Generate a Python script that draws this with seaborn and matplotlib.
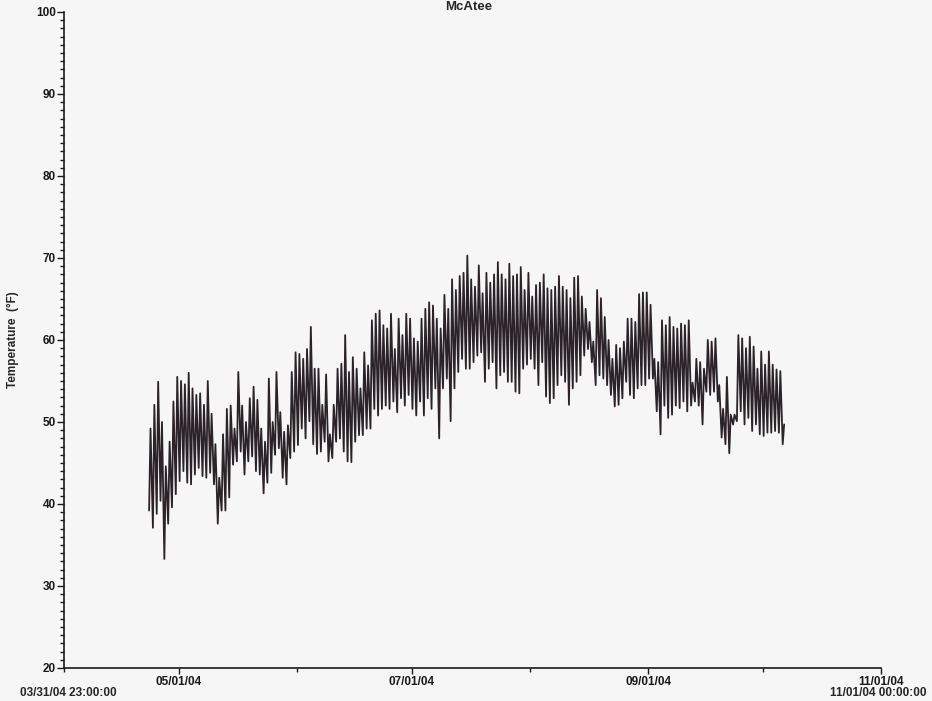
import pandas as pd
import numpy as np
import seaborn as sns
import matplotlib.pyplot as plt
import matplotlib.dates as mdates
from matplotlib.ticker import MultipleLocator

# daily highs / lows (deg F), one pair per day from 04/23/04
highs = [49.2, 52.1, 54.9, 50.0, 44.6, 47.6, 52.5, 55.5, 55.0, 54.6,
         56.0, 54.1, 53.3, 53.5, 52.1, 55.0, 51.0, 47.3, 43.2, 48.5,
         51.6, 52.0, 49.2, 56.1, 52.0, 50.0, 52.9, 54.3, 52.7, 49.2,
         47.6, 55.3, 50.0, 56.1, 51.2, 48.8, 49.6, 56.1, 58.5, 58.3,
         57.7, 58.9,
         61.6, 56.5, 56.5, 52.1, 55.8, 48.5, 52.1, 56.5, 57.1, 60.6,
         56.1, 57.9, 56.5, 54.1, 58.5, 56.9, 62.4, 63.2, 63.6, 61.8,
         61.4, 63.2, 58.9, 62.6, 60.6, 63.2, 62.6, 60.2, 59.8, 62.6,
         63.8, 64.6, 64.2, 62.6, 61.4, 65.5, 63.8, 67.4, 66.1, 67.8,
         68.2, 70.3,
         67.4, 66.5, 69.1, 65.7, 68.2, 67.0, 68.0, 69.5, 68.0, 67.4,
         69.3, 67.8, 68.0, 68.9, 66.1, 68.2, 65.3, 66.7, 67.0, 68.0,
         66.3, 66.1, 66.5, 67.8, 66.5, 66.1, 65.1, 67.6, 67.8, 65.3,
         63.8, 62.2, 59.8, 66.1, 65.1, 62.8, 60.0, 57.7, 59.4, 59.0,
         59.8, 62.6,
         62.6, 62.2, 65.6, 65.8, 65.8, 64.3, 57.7, 57.3, 62.4, 61.8,
         62.8, 61.6, 61.4, 62.0, 61.8, 62.4, 54.8, 57.7, 57.3, 56.5,
         60.0, 59.8, 60.2, 54.5, 51.6, 55.5, 50.9, 50.9, 60.6, 60.2,
         59.0, 60.4, 59.2, 56.5, 58.6, 57.0, 58.6, 57.0, 56.4, 56.2,
         49.7]
lows = [39.2, 37.1, 38.8, 40.4, 33.3, 37.6, 39.6, 41.2, 42.8, 44.0,
        42.6, 42.4, 43.6, 44.4, 43.4, 43.2, 43.8, 42.4, 37.6, 39.2,
        39.2, 40.8, 44.8, 45.2, 46.4, 43.6, 45.2, 45.8, 44.0, 43.6,
        41.3, 42.6, 43.8, 46.0, 46.8, 43.2, 42.4, 45.6, 46.4, 47.2,
        49.2, 48.0,
        50.1, 47.3, 46.1, 46.4, 47.6, 45.2, 45.6, 47.6, 48.0, 46.4,
        45.2, 45.1, 47.6, 48.4, 48.4, 49.2, 49.2, 51.6, 50.8, 51.6,
        52.0, 51.6, 52.5, 51.2, 52.9, 52.0, 53.3, 51.6, 50.8, 52.5,
        50.8, 52.9, 51.6, 54.1, 48.0, 54.1, 55.3, 50.1, 54.1, 56.1,
        57.7, 56.5,
        56.5, 57.3, 58.1, 58.5, 54.9, 56.5, 57.3, 54.1, 55.7, 56.1,
        54.9, 54.9, 53.7, 53.5, 56.5, 57.0, 57.7, 56.5, 54.5, 57.3,
        53.1, 52.3, 52.9, 54.5, 55.7, 54.9, 52.1, 54.1, 54.9, 55.7,
        58.1, 58.9, 57.3, 54.5, 55.7, 55.3, 54.5, 53.3, 51.9, 52.1,
        52.9, 54.9,
        53.3, 52.9, 54.1, 54.5, 54.5, 55.3, 55.3, 51.3, 48.5, 52.0,
        50.5, 50.9, 52.0, 51.7, 52.5, 51.3, 52.0, 52.5, 52.0, 49.7,
        53.7, 53.3, 53.7, 52.5, 48.1, 47.3, 46.2, 49.7, 50.1, 51.3,
        49.7, 50.5, 48.9, 49.7, 48.5, 48.3, 48.7, 48.7, 48.9, 48.7,
        47.3]

first_day = "2004-04-23"
x_start = pd.Timestamp("2004-03-31 23:00:00")
x_end = pd.Timestamp("2004-11-01 00:00:00")

days = pd.date_range(first_day, periods=len(highs), freq="D")
times, temps = [], []
for d, lo, hi in zip(days, lows, highs):
    times += [d + pd.Timedelta(hours=6), d + pd.Timedelta(hours=15)]
    temps += [lo, hi]
df = pd.DataFrame({"time": times, "temp": temps})

sns.set_style("white")
plt.rcParams["font.family"] = ["Liberation Sans", "DejaVu Sans"]
plt.rcParams["font.weight"] = "bold"

bg = "#f6f6f6"
fig = plt.figure(figsize=(9.32, 7.01), dpi=100, facecolor=bg)
ax = fig.add_axes([64 / 932, 33 / 701, 817 / 932, 656 / 701], facecolor=bg)

sns.lineplot(data=df, x="time", y="temp", ax=ax, color="#2b2327",
             linewidth=1.3, estimator=None)

ax.set_xlim(x_start, x_end)
ax.set_ylim(20, 100)
ax.yaxis.set_major_locator(MultipleLocator(10))
ax.yaxis.set_minor_locator(MultipleLocator(1))
ax.xaxis.set_major_locator(mdates.MonthLocator(bymonth=[5, 7, 9, 11]))
ax.xaxis.set_minor_locator(mdates.MonthLocator())
ax.xaxis.set_major_formatter(mdates.DateFormatter("%m/%d/%y"))

ax.tick_params(axis="y", which="major", direction="out", length=5, width=1,
               labelsize=8.5, pad=1, left=True, colors="#1a1a1a")
ax.tick_params(axis="y", which="minor", direction="out", length=3, width=1,
               left=True, colors="#1a1a1a")
ax.tick_params(axis="x", which="major", direction="out", length=4, width=1,
               labelsize=8.5, pad=2, bottom=True, colors="#1a1a1a")
ax.tick_params(axis="x", which="minor", direction="out", length=3, width=1,
               bottom=True, colors="#1a1a1a")
for lab in ax.get_xticklabels() + ax.get_yticklabels():
    lab.set_fontweight("bold")

sns.despine(ax=ax)
for s in ["left", "bottom"]:
    ax.spines[s].set_color("#1a1a1a")
    ax.spines[s].set_linewidth(1.2)

ax.set_xlabel("")
ax.set_ylabel("Temperature  (°F)", fontsize=8.5, fontweight="bold", labelpad=12)

fig.text(20 / 932, 1 - 693 / 701, "03/31/04 23:00:00", fontsize=8.5,
         fontweight="bold", ha="left", va="center")
fig.text(927 / 932, 1 - 693 / 701, "11/01/04 00:00:00", fontsize=8.5,
         fontweight="bold", ha="right", va="center")
fig.text(469 / 932, 1 - 1 / 701, "McAtee", fontsize=9.5,
         fontweight="bold", ha="center", va="top")

fig.savefig("out.png", dpi=100, facecolor=bg)
